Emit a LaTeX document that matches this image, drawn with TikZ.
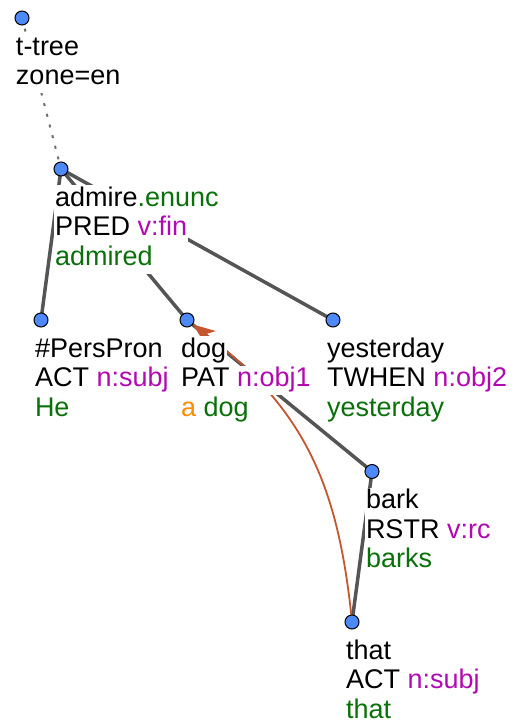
\documentclass[tikz,border=0pt]{standalone}
\usepackage{fontspec}
\setmainfont{Liberation Sans}
\usetikzlibrary{arrows.meta,backgrounds}
\definecolor{nodeblue}{RGB}{77,138,247}
\definecolor{edgegray}{RGB}{85,85,85}
\definecolor{tgreen}{RGB}{10,112,10}
\definecolor{tmag}{RGB}{178,10,178}
\definecolor{torange}{RGB}{255,140,0}
\definecolor{corefc}{RGB}{196,86,48}
\begin{document}
\begin{tikzpicture}[x=1pt,y=-1pt,
  font=\fontsize{27}{29.5}\selectfont,
  tnode/.style={circle, draw=black, line width=1pt, fill=nodeblue, minimum size=14pt, inner sep=0pt},
  lbl/.style={anchor=base west, fill=white, inner xsep=1pt, inner ysep=0pt, text height=21pt, text depth=8.5pt, outer sep=0pt},
  tedge/.style={draw=edgegray, line width=3.5pt},
  dotline/.style={draw=edgegray!85, line width=2pt, dash pattern=on 3pt off 8pt},
  coref/.style={draw=corefc, line width=1.8pt, -{Stealth[length=22pt,width=17pt,inset=6pt]}}]
\useasboundingbox (0,0) rectangle (522,728);
% tree nodes
\node[tnode] (root) at (22,18) {};
\node[tnode] (admire) at (61,169) {};
\node[tnode] (perspron) at (41,320) {};
\node[tnode] (dog) at (187,320) {};
\node[tnode] (yesterday) at (333,320) {};
\node[tnode] (bark) at (372,471.5) {};
\node[tnode] (that) at (352,622) {};
% labels
\node[lbl] (root-1) at (15,55) {t-tree};
\node[lbl] (root-2) at (15,84.5) {zone=en};
\node[lbl] (admire-1) at (54,206) {admire\textcolor{tgreen}{.enunc}};
\node[lbl] (admire-2) at (54,235.5) {PRED \textcolor{tmag}{v:fin}};
\node[lbl] (admire-3) at (54,265) {\textcolor{tgreen}{admired}};
\node[lbl] (perspron-1) at (34,357) {\#PersPron};
\node[lbl] (perspron-2) at (34,386.5) {ACT \textcolor{tmag}{n:subj}};
\node[lbl] (perspron-3) at (34,416) {\textcolor{tgreen}{He}};
\node[lbl] (dog-1) at (180,357) {dog};
\node[lbl] (dog-2) at (180,386.5) {PAT \textcolor{tmag}{n:obj1}};
\node[lbl] (dog-3) at (180,416) {\textcolor{torange}{a} \textcolor{tgreen}{dog}};
\node[lbl] (yesterday-1) at (326,357) {yesterday};
\node[lbl] (yesterday-2) at (326,386.5) {TWHEN \textcolor{tmag}{n:obj2}};
\node[lbl] (yesterday-3) at (326,416) {\textcolor{tgreen}{yesterday}};
\node[lbl] (bark-1) at (365,508.5) {bark};
\node[lbl] (bark-2) at (365,538) {RSTR \textcolor{tmag}{v:rc}};
\node[lbl] (bark-3) at (365,567.5) {\textcolor{tgreen}{barks}};
\node[lbl] (that-1) at (345,659) {that};
\node[lbl] (that-2) at (345,688.5) {ACT \textcolor{tmag}{n:subj}};
\node[lbl] (that-3) at (345,718) {\textcolor{tgreen}{that}};
% connectors
\begin{scope}[on background layer]
\draw[dotline] (root.center) -- (admire.center);
\draw[tedge] (admire.center) -- (perspron.center);
\draw[tedge] (admire.center) -- (dog.center);
\draw[tedge] (admire.center) -- (yesterday.center);
\draw[tedge] (dog.center) -- (bark.center);
\draw[tedge] (bark.center) -- (that.center);
\draw[coref] (that.center) .. controls (338.5,487) and (306,410) .. (dog);
\end{scope}
\end{tikzpicture}
\end{document}
